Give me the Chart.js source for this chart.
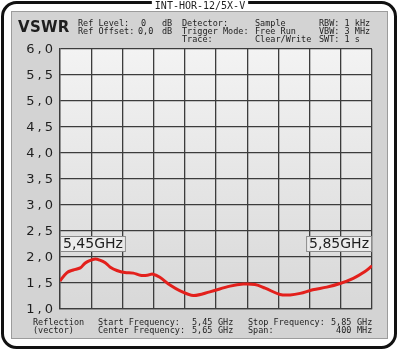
<!DOCTYPE html>
<html>
<head>
<meta charset="utf-8">
<script src="https://cdn.jsdelivr.net/npm/chart.js@4.4.1/dist/chart.umd.min.js"></script>
<style>
  html, body { margin: 0; padding: 0; background: #fff; }
  #wrap { position: relative; width: 400px; height: 351px; }
</style>
</head>
<body>
<div id="wrap"><canvas id="c" width="400" height="351"></canvas></div>
<script>
// trace (MHz, VSWR)
var freqMHz = [5450, 5459, 5467, 5476, 5482, 5488, 5495, 5501, 5508, 5514, 5523, 5533,
               5544, 5553, 5562, 5569, 5578, 5591, 5604, 5621, 5642, 5668, 5685, 5700,
               5713, 5732, 5745, 5758, 5774, 5792, 5809, 5826, 5841, 5850];
var vswr    = [1.54, 1.70, 1.75, 1.79, 1.88, 1.93, 1.96, 1.94, 1.89, 1.81, 1.74, 1.70,
               1.69, 1.65, 1.65, 1.67, 1.61, 1.46, 1.35, 1.26, 1.33, 1.44, 1.48, 1.47,
               1.40, 1.28, 1.27, 1.30, 1.37, 1.42, 1.49, 1.59, 1.72, 1.83];

var yTickValues = [1.0, 1.5, 2.0, 2.5, 3.0, 3.5, 4.0, 4.5, 5.0, 5.5, 6.0];
var yTickLabels = ['1,0', '1,5', '2,0', '2,5', '3,0', '3,5', '4,0', '4,5', '5,0', '5,5', '6,0'];

var markerFreqs  = [5450, 5850];
var markerLabels = ['5,45GHz', '5,85GHz'];

var title = 'INT-HOR-12/5X-V';
var headerLines = [
  ['Ref Level:', '0', 'dB', 'Detector:', 'Sample', 'RBW: 1 kHz'],
  ['Ref Offset:', '0,0', 'dB', 'Trigger Mode:', 'Free Run', 'VBW: 3 MHz'],
  ['', '', '', 'Trace:', 'Clear/Write', 'SWT: 1 s']
];
var footerLines = [
  ['Reflection', 'Start Frequency:', '5,45', 'GHz', 'Stop Frequency:', '5,85', 'GHz'],
  ['(vector)', 'Center Frequency:', '5,65', 'GHz', 'Span:', ' 400', 'MHz']
];

var MONO = '"DejaVu Sans Mono", monospace';
var SANS = '"DejaVu Sans", sans-serif';
var INK = '#1e1e1e';

function roundRect(ctx, x, y, w, h, r) {
  ctx.beginPath();
  ctx.moveTo(x + r, y);
  ctx.arcTo(x + w, y, x + w, y + h, r);
  ctx.arcTo(x + w, y + h, x, y + h, r);
  ctx.arcTo(x, y + h, x, y, r);
  ctx.arcTo(x, y, x + w, y, r);
  ctx.closePath();
}

// frame, panel and plot background
var framePlugin = {
  id: 'frame',
  beforeDraw: function (chart) {
    var ctx = chart.ctx, a = chart.chartArea;
    ctx.save();
    ctx.fillStyle = '#fff';
    ctx.fillRect(0, 0, 400, 351);

    roundRect(ctx, 2.5, 2.5, 393, 345, 14);
    ctx.lineWidth = 3;
    ctx.strokeStyle = '#111';
    ctx.stroke();

    ctx.fillStyle = '#d3d3d3';
    ctx.fillRect(11, 11, 377, 328);
    ctx.lineWidth = 1;
    ctx.strokeStyle = '#9c9c9c';
    ctx.strokeRect(11.5, 11.5, 376, 327);

    var g = ctx.createLinearGradient(0, a.top, 0, a.bottom);
    g.addColorStop(0, '#f3f3f3');
    g.addColorStop(1, '#d8d8d8');
    ctx.fillStyle = g;
    ctx.fillRect(a.left, a.top, a.right - a.left, a.bottom - a.top);
    ctx.restore();
  },
  afterDraw: function (chart) {
    var ctx = chart.ctx;
    var xs = chart.scales.x, ys = chart.scales.y;
    ctx.save();

    // title tab over the top border
    ctx.font = '10px ' + MONO;
    var tw = ctx.measureText(title).width;
    ctx.fillStyle = '#fff';
    ctx.fillRect(200 - tw / 2 - 3, 0, tw + 6, 11);
    ctx.fillStyle = INK;
    ctx.textAlign = 'center';
    ctx.textBaseline = 'alphabetic';
    ctx.fillText(title, 200, 9);

    ctx.textAlign = 'left';
    ctx.font = 'bold 15px ' + SANS;
    ctx.letterSpacing = '0.3px';
    ctx.fillText('VSWR', 18, 32);
    ctx.letterSpacing = '0px';

    // header columns
    ctx.font = '8.5px ' + MONO;
    headerLines.forEach(function (line, i) {
      var by = 25.5 + i * 8.2;
      ctx.fillText(line[0], 78, by);
      ctx.fillText(line[1], i === 0 ? 141 : 138, by);
      ctx.fillText(line[2], 162, by);
      ctx.fillText(line[3], 182, by);
      ctx.fillText(line[4], 255, by);
      ctx.fillText(line[5], 319, by);
    });

    // footer columns
    footerLines.forEach(function (line, i) {
      var by = 324.5 + i * 8.2;
      ctx.fillText(line[0], 33, by);
      ctx.fillText(line[1], 98, by);
      ctx.fillText(line[2], 192, by);
      ctx.fillText(line[3], 218, by);
      ctx.fillText(line[4], 248, by);
      ctx.fillText(line[5], 331, by);
      ctx.fillText(line[6], 357, by);
    });

    // y tick labels
    ctx.font = '13px ' + SANS;
    ctx.letterSpacing = '3px';
    ctx.textAlign = 'right';
    ctx.textBaseline = 'middle';
    yTickValues.forEach(function (v, i) {
      ctx.fillText(yTickLabels[i], 56, ys.getPixelForValue(v) + 1);
    });
    ctx.letterSpacing = '0px';

    // marker boxes
    ctx.font = '14px ' + SANS;
    ctx.textBaseline = 'middle';
    var bBottom = ys.getPixelForValue(2.0) - 5;
    markerFreqs.forEach(function (f, i) {
      var w = ctx.measureText(markerLabels[i]).width + 6;
      var px = xs.getPixelForValue(f);
      var x0 = i === 0 ? px : px - w;
      ctx.fillStyle = 'rgba(236,236,236,0.95)';
      ctx.fillRect(x0, bBottom - 16, w, 16);
      ctx.strokeStyle = '#8a8a8a';
      ctx.lineWidth = 1;
      ctx.strokeRect(x0 + 0.5, bBottom - 15.5, w - 1, 15);
      ctx.fillStyle = INK;
      ctx.textAlign = 'left';
      ctx.fillText(markerLabels[i], x0 + 3, bBottom - 7.5);
    });
    ctx.restore();
  }
};

var points = freqMHz.map(function (f, i) { return { x: f, y: vswr[i] }; });

new Chart(document.getElementById('c'), {
  type: 'line',
  data: {
    datasets: [{
      data: points,
      borderColor: '#e3201c',
      borderWidth: 3,
      pointRadius: 0,
      tension: 0.35,
      fill: false
    }]
  },
  options: {
    responsive: false,
    animation: false,
    layout: { padding: { left: 60, right: 28, top: 49, bottom: 42 } },
    plugins: { legend: { display: false }, tooltip: { enabled: false } },
    scales: {
      x: {
        type: 'linear',
        min: 5450, max: 5850,
        ticks: { display: false, stepSize: 40 },
        grid: { color: '#3c3c3c', lineWidth: 1.3, drawTicks: false, tickLength: 0 },
        border: { display: true, color: '#3c3c3c', width: 1.3 }
      },
      y: {
        min: 1, max: 6,
        ticks: { display: false, stepSize: 0.5 },
        grid: { color: '#3c3c3c', lineWidth: 1.3, drawTicks: false, tickLength: 0 },
        border: { display: true, color: '#3c3c3c', width: 1.3 }
      }
    }
  },
  plugins: [framePlugin]
});
</script>
</body>
</html>
